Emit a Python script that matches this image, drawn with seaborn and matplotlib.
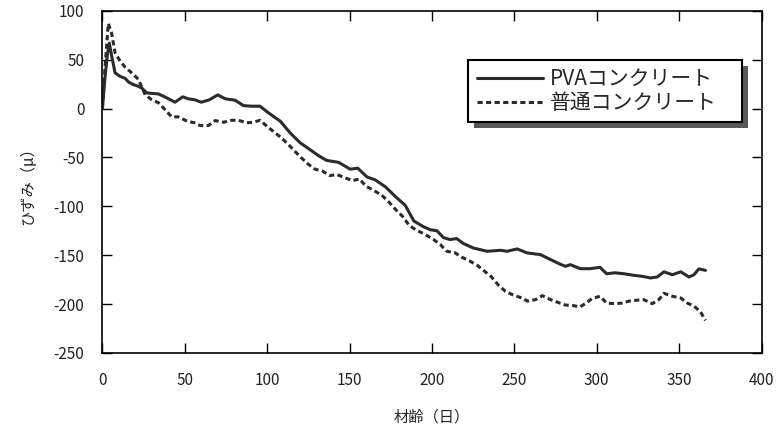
import matplotlib
matplotlib.use("Agg")
import matplotlib.pyplot as plt
from matplotlib.patches import Rectangle
import seaborn as sns
import pandas as pd

# ---- data ----
pva_age = [0, 1.5, 3, 4.2, 5.5, 7.7, 10.7, 13.7, 16, 18.8, 21.5, 23.9, 26.9, 30, 34, 39, 44,
           48.8, 52, 56, 60, 65, 70, 74.5, 80.6, 85.6, 90.7, 95.7, 100.8, 108, 114, 120, 126,
           131, 136, 143.3, 150.4, 155, 160.6, 165.6, 171.7, 177.8, 183.8, 189, 195, 199, 203,
           207, 211, 215, 219, 225, 233.5, 241.5, 245.6, 251.7, 257.8, 265.8, 272, 277, 281,
           284, 290, 296, 302, 306, 311, 316.5, 322.5, 327.6, 332.7, 336.7, 340.8, 345.9, 351,
           356, 359, 362, 366]
pva_strain = [0, 30, 55, 67, 55, 36.5, 33, 31, 27, 24.5, 23, 21, 16, 15.5, 15, 11, 6.5,
              12, 10, 9, 6.5, 9, 14, 10, 8.5, 3, 2.4, 2.4, -4.4, -13, -25, -35, -42,
              -48, -53, -55, -62, -61, -70, -73, -80, -90, -99, -115, -121, -124, -125,
              -132, -134, -133, -138, -142.6, -146, -145, -146, -143.6, -147.7, -149.4, -154.5, -158.6, -161.4,
              -159.7, -163.8, -163.8, -162.4, -169, -168, -169, -170.6, -171.6, -173.3, -172.3, -167, -170, -167,
              -172.3, -170, -164, -165.5]

normal_age = [0, 1.5, 3.6, 5.6, 7.7, 11, 14, 17.8, 21.8, 26, 30, 34, 38, 42, 46, 51.6, 56, 59.3,
              64.3, 68.4, 73.5, 78.5, 82.6, 87.7, 91.7, 95.7, 99.8, 104.9, 108, 113, 116.4, 120.5,
              125, 129, 133.6, 138, 142.3, 147.4, 152, 156, 160, 164.6, 169.7, 173, 177.8, 182,
              186, 190, 195, 201, 205, 209, 214, 218, 223, 228, 232, 236, 240, 244.6, 249.6, 254.7,
              258, 262.8, 267, 272, 276, 281, 286, 289.7, 293, 297, 302, 306, 311, 315.5, 319.5,
              324.6, 328.6, 333.7, 337.7, 340.8, 345.9, 351, 355, 359, 363, 366]
normal_strain = [0, 40, 87, 77, 57, 48, 42, 36.5, 30, 14, 9, 6, -1, -8.5, -8.5, -13, -14.6, -17.4,
                 -17.4, -12.3, -14, -12, -12, -14.6, -14, -12, -18, -25, -29, -37, -43, -50,
                 -57, -62, -64, -68.6, -67.5, -71, -73.7, -72, -79.5, -83.6, -89, -94, -103, -110,
                 -119, -124, -128, -134, -139, -146, -147.5, -152, -156, -161, -166.5, -172, -180, -187, -191, -193.8,
                 -197, -195.5, -191.4, -195.5, -198, -201, -201.6, -203, -199.6, -194.5, -192, -199, -199.6, -199, -197,
                 -196, -195.5, -199.6, -195.5, -189, -192, -193.8, -199, -202, -208, -216.7]

labels = ["PVAコンクリート", "普通コンクリート"]
x_ticks = [0, 50, 100, 150, 200, 250, 300, 350, 400]
y_ticks = [-250, -200, -150, -100, -50, 0, 50, 100]
x_label = "材齢（日）"
y_label = "ひずみ（μ）"

# ---- style ----
sns.set_theme(style="white")
plt.rcParams["font.family"] = ["Noto Sans CJK JP", "DejaVu Sans"]
plt.rcParams["axes.unicode_minus"] = False

fig = plt.figure(figsize=(7.78, 4.32), dpi=100)
ax = fig.add_axes([0.1316, 0.183, 0.8472, 0.792])

df_pva = pd.DataFrame({"age": pva_age, "strain": pva_strain})
df_nor = pd.DataFrame({"age": normal_age, "strain": normal_strain})

line_color = "#2b2b2b"
sns.lineplot(data=df_pva, x="age", y="strain", ax=ax, color=line_color,
             linewidth=2.2, label=labels[0], sort=False)
sns.lineplot(data=df_nor, x="age", y="strain", ax=ax, color=line_color,
             linewidth=2.2, label=labels[1], sort=False)
ax.lines[1].set_dashes((1.7, 1.1))

ax.set_xlim(0, 400)
ax.set_ylim(-250, 100)
ax.set_xticks(x_ticks)
ax.set_yticks(y_ticks)
ax.set_xticklabels([str(v) for v in x_ticks])
ax.set_yticklabels([str(v) for v in y_ticks])
ax.tick_params(direction="in", length=7, width=1, color="black",
               top=True, right=True, bottom=True, left=True,
               labelsize=11, labelcolor="#222222")
ax.tick_params(axis="y", pad=13)
ax.tick_params(axis="x", pad=14)
for s in ax.spines.values():
    s.set_color("black")
    s.set_linewidth(1.2)

ax.set_xlabel(x_label, fontsize=11, color="#222222", labelpad=14)
ax.set_ylabel(y_label, fontsize=11, color="#222222", labelpad=12)

leg = ax.legend(loc="upper left", bbox_to_anchor=(0.555, 0.857, 0.416, 0.0),
                mode="expand", fontsize=15,
                frameon=True, fancybox=False, framealpha=1, edgecolor="black",
                handlelength=3.2, labelspacing=0.1, borderpad=0.4,
                handletextpad=0.3, borderaxespad=0)
leg.get_frame().set_linewidth(1.5)
leg.set_zorder(10)

fig.canvas.draw()
bb = leg.get_window_extent()
inv = ax.transAxes.inverted()
(x0, y0), (x1, y1) = inv.transform([[bb.x0 + 6, bb.y0 - 6], [bb.x1 + 6, bb.y1 - 6]])
ax.add_patch(Rectangle((x0, y0), x1 - x0, y1 - y0, transform=ax.transAxes,
                       facecolor="0.35", edgecolor="none", zorder=9, clip_on=False))

fig.savefig("out.png", dpi=100)
